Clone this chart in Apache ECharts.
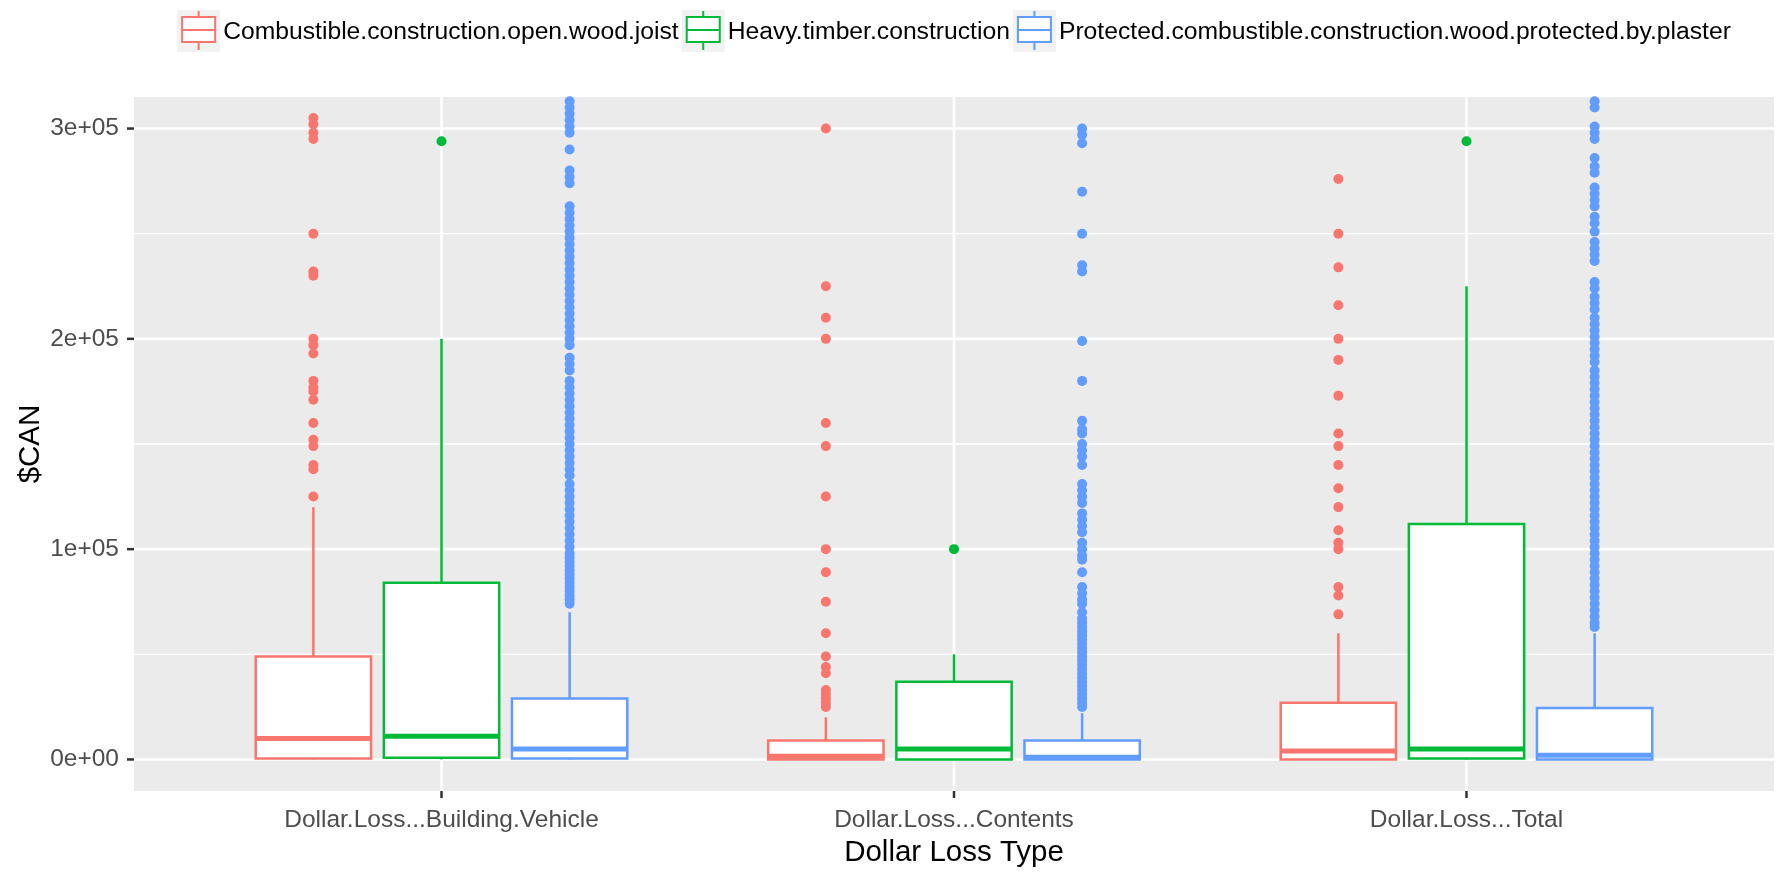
<!DOCTYPE html>
<html>
<head>
<meta charset="utf-8">
<title>Dollar loss by construction type</title>
<script src="https://cdn.jsdelivr.net/npm/echarts@6/dist/echarts.min.js"></script>
<style>
  html, body { margin: 0; padding: 0; background: #ffffff; }
  #chart { width: 1776px; height: 873px; }
</style>
</head>
<body>
<div id="chart"></div>
<script>
// ---- data ----
const categories = ['Dollar.Loss...Building.Vehicle', 'Dollar.Loss...Contents', 'Dollar.Loss...Total'];
const constructionTypes = [
  'Combustible.construction.open.wood.joist',
  'Heavy.timber.construction',
  'Protected.combustible.construction.wood.protected.by.plaster'
];
const xTitle = 'Dollar Loss Type';
const yTitle = '$CAN';
const yTickValues = [0, 100000, 200000, 300000];
const yTickLabels = ['0e+00', '1e+05', '2e+05', '3e+05'];
const yMinorBreaks = [50000, 150000, 250000];

// box summaries per category: [lower whisker, Q1, median, Q3, upper whisker]
const combustibleBoxes = [
  [0, 500, 10000, 49000, 120000],
  [0, 0, 1500, 9000, 20000],
  [0, 0, 4000, 27000, 60000]
];
const heavyTimberBoxes = [
  [0, 800, 11000, 84000, 200000],
  [0, 0, 5000, 37000, 50000],
  [0, 500, 5000, 112000, 225000]
];
const protectedBoxes = [
  [0, 500, 5000, 29000, 70000],
  [0, 0, 1000, 9000, 22000],
  [0, 0, 2000, 24500, 60000]
];

// outlying losses per category
const combustibleOutliers = [
  [305000, 302000, 298000, 295000, 250000, 232000, 230000, 200000, 197000, 193000,
   180000, 177000, 175000, 171000, 160000, 152000, 149000, 140000, 138000, 125000],
  [300000, 225000, 210000, 200000, 160000, 149000, 125000, 100000, 89000, 75000,
   60000, 49000, 44000, 41000, 33000, 31000, 29000, 27000, 25000],
  [276000, 250000, 234000, 216000, 200000, 190000, 173000, 155000, 149000, 140000,
   129000, 120000, 109000, 103000, 100000, 82000, 78000, 69000]
];
const heavyTimberOutliers = [
  [294000],
  [100000],
  [294000]
];
const protectedOutliers = [
  [316000, 313000, 310000, 307000, 304000, 301000, 298000, 290000, 280000, 277000,
   274000, 263000, 260000, 257000, 254000, 251000, 248000, 245000, 242000, 239000,
   236000, 233000, 230000, 227000, 224000, 221000, 218000, 215000, 212000, 209000,
   206000, 203000, 200000, 197000, 191000, 188000, 185000, 180000, 177000, 174000,
   171000, 168000, 165000, 162000, 159000, 156000, 153000, 150000, 147000, 144000,
   141000, 138000, 135000, 131000, 128000, 125000, 122000, 119000, 116000, 113000,
   110000, 107000, 104000, 101000, 98000, 96000, 94000, 92000, 90000, 88000,
   86000, 84000, 82000, 80000, 78000, 76000, 74000],
  [300000, 297000, 293000, 270000, 250000, 235000, 232000, 199000, 180000, 161000,
   157000, 155000, 150000, 147000, 144000, 140000, 131000, 128000, 125000, 122000,
   117000, 114000, 111000, 108000, 103000, 100000, 97000, 95000, 89000, 82000,
   79000, 76000, 74000, 70000, 67000, 65000, 63000, 61000, 59000, 57000,
   55000, 53000, 51000, 49000, 47000, 45000, 43000, 41000, 39000, 37000,
   35000, 33000, 31000, 29000, 27000, 25000],
  [316000, 313000, 310000, 301000, 298000, 295000, 286000, 282000, 279000, 272000,
   269000, 266000, 263000, 258000, 255000, 251000, 246000, 243000, 240000, 237000,
   227000, 224000, 220000, 217000, 214000, 210000, 207000, 204000, 201000, 198000,
   195000, 192000, 189000, 185000, 182000, 179000, 176000, 173000, 170000, 167000,
   164000, 161000, 158000, 155000, 152000, 149000, 146000, 143000, 140000, 137000,
   134000, 131000, 128000, 125000, 122000, 119000, 116000, 113000, 110000, 107000,
   104000, 101000, 98000, 95000, 92000, 89000, 86000, 83000, 80000, 77000,
   74000, 71000, 68000, 65000, 63000]
];

// ---- styling / layout ----
const FONT = "'Liberation Sans', Arial, sans-serif";
const COLORS = ['#F8766D', '#00BA38', '#619CFF'];
const DODGE = [-0.25, 0, 0.25];
const BOX_WIDTH = 0.225;
const GRID = { left: 134, top: 97, width: 1640, height: 694 };
const TICK_LEN = 7;

const boxSets = [combustibleBoxes, heavyTimberBoxes, protectedBoxes];
const outlierSets = [combustibleOutliers, heavyTimberOutliers, protectedOutliers];

function boxRenderer(color) {
  return function (params, api) {
    const x = api.value(0);
    const half = api.size([BOX_WIDTH, 0])[0] / 2;
    const lo = api.coord([x, api.value(1)]);
    const q1 = api.coord([x, api.value(2)]);
    const med = api.coord([x, api.value(3)]);
    const q3 = api.coord([x, api.value(4)]);
    const hi = api.coord([x, api.value(5)]);
    return {
      type: 'group',
      children: [
        { type: 'line', shape: { x1: q3[0], y1: q3[1], x2: hi[0], y2: hi[1] },
          style: { stroke: color, lineWidth: 2.5 } },
        { type: 'line', shape: { x1: lo[0], y1: lo[1], x2: q1[0], y2: q1[1] },
          style: { stroke: color, lineWidth: 2.5 } },
        { type: 'rect', shape: { x: q1[0] - half, y: q3[1], width: half * 2, height: q1[1] - q3[1] },
          style: { fill: '#ffffff', stroke: color, lineWidth: 2.5 } },
        { type: 'line', shape: { x1: med[0] - half, y1: med[1], x2: med[0] + half, y2: med[1] },
          style: { stroke: color, lineWidth: 5 } }
      ]
    };
  };
}

// panel gridlines plus the small axis ticks outside the panel
function panelGridRenderer(params, api) {
  const cs = params.coordSys;
  const children = [];
  const tickStyle = { stroke: '#333333', lineWidth: 2.5 };
  yMinorBreaks.forEach(function (v) {
    const y = api.coord([1, v])[1];
    children.push({ type: 'line', shape: { x1: cs.x, y1: y, x2: cs.x + cs.width, y2: y },
      style: { stroke: '#ffffff', lineWidth: 1.3 } });
  });
  yTickValues.forEach(function (v) {
    const y = api.coord([1, v])[1];
    children.push({ type: 'line', shape: { x1: cs.x, y1: y, x2: cs.x + cs.width, y2: y },
      style: { stroke: '#ffffff', lineWidth: 2.6 } });
    children.push({ type: 'line', shape: { x1: cs.x - TICK_LEN, y1: y, x2: cs.x, y2: y },
      style: tickStyle });
  });
  categories.forEach(function (c, i) {
    const x = api.coord([i + 1, 0])[0];
    children.push({ type: 'line', shape: { x1: x, y1: cs.y, x2: x, y2: cs.y + cs.height },
      style: { stroke: '#ffffff', lineWidth: 2.6 } });
    children.push({ type: 'line', shape: { x1: x, y1: cs.y + cs.height, x2: x, y2: cs.y + cs.height + TICK_LEN },
      style: tickStyle });
  });
  return { type: 'group', children: children };
}

const series = [{
  type: 'custom',
  name: 'panel-grid',
  silent: true,
  clip: false,
  z: 1,
  data: [[1, 0]],
  encode: { x: 0, y: 1 },
  renderItem: panelGridRenderer
}];

constructionTypes.forEach(function (name, s) {
  series.push({
    type: 'custom',
    name: name,
    z: 2,
    silent: true,
    data: boxSets[s].map(function (b, ci) { return [ci + 1 + DODGE[s]].concat(b); }),
    encode: { x: 0, y: [1, 2, 3, 4, 5] },
    renderItem: boxRenderer(COLORS[s])
  });
});

constructionTypes.forEach(function (name, s) {
  const pts = [];
  outlierSets[s].forEach(function (vals, ci) {
    vals.forEach(function (v) { pts.push([ci + 1 + DODGE[s], v]); });
  });
  series.push({
    type: 'scatter',
    name: name,
    z: 3,
    silent: true,
    clip: true,
    symbol: 'circle',
    symbolSize: 10,
    itemStyle: { color: COLORS[s], opacity: 1 },
    data: pts
  });
});

// ---- legend (drawn as graphics so each key gets its grey square) ----
function measure(text, size) {
  const ctx = document.createElement('canvas').getContext('2d');
  ctx.font = size + 'px ' + FONT;
  return ctx.measureText(text).width;
}
const LEGEND_FONT = 24.7, KEY_W = 43, KEY_H = 42, KEY_TOP = 10, TEXT_GAP = 3, ITEM_GAP = 3;
const labelWidths = constructionTypes.map(function (t) { return measure(t, LEGEND_FONT); });
let legendWidth = ITEM_GAP * (constructionTypes.length - 1);
labelWidths.forEach(function (w) { legendWidth += KEY_W + TEXT_GAP + w; });
let cursor = GRID.left + GRID.width / 2 - legendWidth / 2;
const graphics = [];
constructionTypes.forEach(function (name, s) {
  const kx = cursor;
  const cx = kx + KEY_W / 2;
  const color = COLORS[s];
  graphics.push(
    { type: 'rect', shape: { x: kx, y: KEY_TOP, width: KEY_W, height: KEY_H }, style: { fill: '#F2F2F2' } },
    { type: 'line', shape: { x1: cx, y1: KEY_TOP + 1, x2: cx, y2: KEY_TOP + 7 }, style: { stroke: color, lineWidth: 2 } },
    { type: 'line', shape: { x1: cx, y1: KEY_TOP + 32, x2: cx, y2: KEY_TOP + 40 }, style: { stroke: color, lineWidth: 2 } },
    { type: 'rect', shape: { x: kx + 5, y: KEY_TOP + 7, width: KEY_W - 10, height: 25 },
      style: { fill: '#ffffff', stroke: color, lineWidth: 2 } },
    { type: 'line', shape: { x1: kx + 5, y1: KEY_TOP + 20, x2: kx + KEY_W - 5, y2: KEY_TOP + 20 },
      style: { stroke: color, lineWidth: 2 } },
    { type: 'text', x: kx + KEY_W + TEXT_GAP, y: KEY_TOP + KEY_H / 2 + 1,
      style: { text: name, fill: '#000000', font: LEGEND_FONT + 'px ' + FONT,
               textAlign: 'left', textVerticalAlign: 'middle' } }
  );
  cursor = kx + KEY_W + TEXT_GAP + labelWidths[s] + ITEM_GAP;
});

// axis titles
graphics.push(
  { type: 'text', x: GRID.left + GRID.width / 2, y: 853,
    style: { text: xTitle, fill: '#000000', font: '29.5px ' + FONT,
             textAlign: 'center', textVerticalAlign: 'middle' } },
  { type: 'text', x: 31, y: GRID.top + GRID.height / 2, rotation: Math.PI / 2,
    style: { text: yTitle, fill: '#000000', font: '29.5px ' + FONT,
             textAlign: 'center', textVerticalAlign: 'middle' } }
);

const chart = echarts.init(document.getElementById('chart'), null, { renderer: 'canvas' });
chart.setOption({
  animation: false,
  backgroundColor: '#ffffff',
  textStyle: { fontFamily: FONT },
  grid: {
    left: GRID.left, top: GRID.top, width: GRID.width, height: GRID.height,
    show: true, backgroundColor: '#EBEBEB', borderWidth: 0
  },
  xAxis: {
    type: 'value',
    min: 0.4,
    max: 3.6,
    axisLine: { show: false },
    splitLine: { show: false },
    axisTick: { show: false },
    axisLabel: {
      customValues: [1, 2, 3],
      margin: 17,
      fontSize: 24.5,
      color: '#4D4D4D',
      fontFamily: FONT,
      formatter: function (v) { return categories[Math.round(v) - 1]; }
    }
  },
  yAxis: {
    type: 'value',
    min: -15000,
    max: 315000,
    axisLine: { show: false },
    splitLine: { show: false },
    axisTick: { show: false },
    axisLabel: {
      customValues: yTickValues,
      margin: 15,
      fontSize: 24.5,
      color: '#4D4D4D',
      fontFamily: FONT,
      formatter: function (v) { return yTickLabels[yTickValues.indexOf(v)]; }
    }
  },
  graphic: { elements: graphics },
  series: series
});
</script>
</body>
</html>
